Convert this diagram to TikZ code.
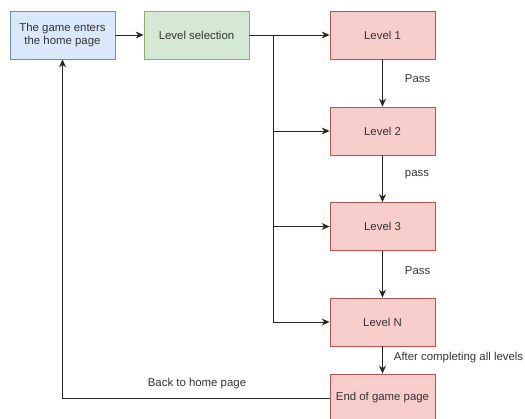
\documentclass[tikz,border=0pt]{standalone}
\usepackage{fontspec}
\setmainfont{Liberation Sans}
\usetikzlibrary{arrows.meta}
\definecolor{bfill}{HTML}{DAE8FC}\definecolor{bdraw}{HTML}{6C8EBF}
\definecolor{gfill}{HTML}{D5E8D4}\definecolor{gdraw}{HTML}{82B366}
\definecolor{rfill}{HTML}{F8CECC}\definecolor{rdraw}{HTML}{B85450}
\definecolor{txt}{HTML}{333333}
\tikzset{
  boxbase/.style={minimum width=105pt,minimum height=48pt,inner sep=2pt,align=center,font=\fontsize{11.4}{13.5}\selectfont,text=txt,line width=0.8pt},
  bluebox/.style={boxbase,fill=bfill,draw=bdraw},
  greenbox/.style={boxbase,fill=gfill,draw=gdraw},
  redbox/.style={boxbase,fill=rfill,draw=rdraw},
  conn/.style={line width=0.9pt,draw=black!85,-{Stealth[length=8pt,width=7pt]}},
  lbl/.style={font=\fontsize{11.4}{13.5}\selectfont,text=txt,inner sep=1pt}
}
\begin{document}
\begin{tikzpicture}[x=1pt,y=1pt]
\useasboundingbox (0,0) rectangle (525,-418);
\clip (0,0) rectangle (525,-418);
\node[bluebox] (home) at (62.5,-35) {The game enters\\the home page};
\node[greenbox] (sel) at (196.5,-35) {Level selection};
\node[redbox] (l1) at (382.5,-35) {Level 1};
\node[redbox] (l2) at (382.5,-131) {Level 2};
\node[redbox] (l3) at (382.5,-226.5) {Level 3};
\node[redbox] (ln) at (382.5,-322) {Level N};
\node[redbox] (end) at (382.5,-398) {End of game page};
\coordinate (t1) at (273,-35);
\coordinate (t2) at (273,-131);
\coordinate (t3) at (273,-226.5);
\coordinate (tn) at (273,-322);
\coordinate (bl) at (62.5,-398);
\draw[conn] (home) -- (sel);
\draw[conn] (sel) -- (l1);
\draw[line width=0.9pt,draw=black!85] (t1) -- (tn);
\draw[conn] (t2) -- (l2);
\draw[conn] (t3) -- (l3);
\draw[conn] (tn) -- (ln);
\draw[conn] (l1) -- node[lbl,right,xshift=21pt,yshift=4pt]{Pass} (l2);
\draw[conn] (l2) -- node[lbl,right,xshift=21pt,yshift=4pt]{pass} (l3);
\draw[conn] (l3) -- node[lbl,right,xshift=21pt,yshift=4pt]{Pass} (ln);
\draw[conn] (ln) -- node[lbl,right,xshift=10pt,yshift=2pt]{After completing all levels} (end);
\draw[conn] (end.west |- bl) -- (bl) -- (home.south);
\node[lbl] (back) at (197,-384) {Back to home page};
\end{tikzpicture}
\end{document}
